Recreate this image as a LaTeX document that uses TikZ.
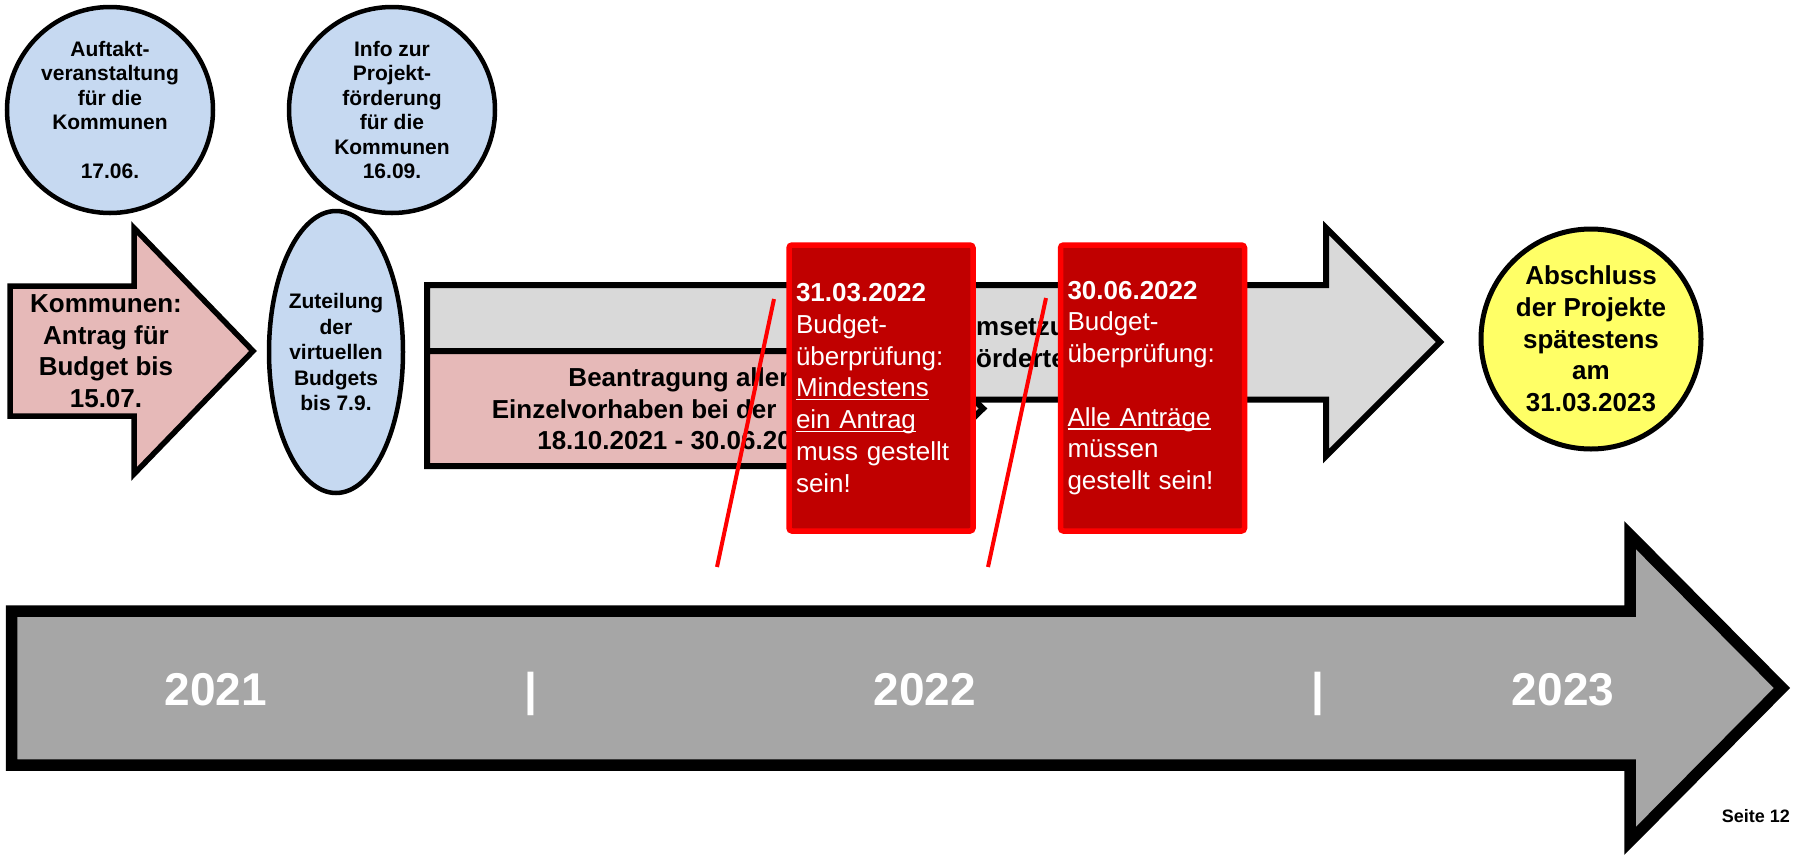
\documentclass[tikz,border=0pt]{standalone}
\usepackage{fontspec}
\setmainfont{Liberation Sans}
\usetikzlibrary{shapes.geometric}
\definecolor{lblue}{HTML}{C6D9F1}
\definecolor{lpink}{HTML}{E6B9B8}
\definecolor{lgrey}{HTML}{D9D9D9}
\definecolor{mgrey}{HTML}{A6A6A6}
\definecolor{dred}{HTML}{C00000}
\definecolor{bred}{HTML}{FF0000}
\definecolor{lyellow}{HTML}{FFFF66}
\newcommand\myul[1]{\leavevmode\setbox0\hbox{#1}\rlap{\rule[-3.5pt]{\wd0}{1.4pt}}\box0}
\begin{document}
\begin{tikzpicture}[x=1pt,y=-1pt,line join=miter,
  bubble/.style={circle,draw=black,line width=4.5pt,fill=lblue,inner sep=0pt,
    minimum size=206pt,align=center,font=\fontsize{21}{24.5}\selectfont\bfseries},
  oval/.style={ellipse,draw=black,line width=4.5pt,fill=lblue,inner sep=0pt,
    minimum width=134pt,minimum height=282pt,align=center,
    font=\fontsize{21}{25.5}\selectfont\bfseries},
  goal/.style={circle,draw=black,line width=5pt,fill=lyellow,inner sep=0pt,
    minimum size=220pt,align=center,font=\fontsize{26}{31.7}\selectfont\bfseries},
  shapeline/.style={draw=black,line width=5.5pt},
  bigtxt/.style={font=\fontsize{26}{31.5}\selectfont\bfseries,align=center,inner sep=0pt},
  redbox/.style={rectangle,rounded corners=3pt,draw=bred,fill=dred,line width=5.5pt,
    minimum height=286pt,text width=170pt,inner xsep=7pt,inner ysep=0pt,align=left,
    text=white,font=\fontsize{26}{31.7}\selectfont},
  redline/.style={draw=bred,line width=4pt},
  year/.style={anchor=base,text=white,inner sep=0pt,font=\fontsize{46}{50}\selectfont\bfseries}]
\useasboundingbox (0,0) rectangle (1797,855);

% top bubbles
\node[bubble] (kick) at (110,110) {Auftakt-\\veranstaltung\\für die\\Kommunen\\[24.5pt]17.06.};
\node[bubble] (info) at (392,110) {Info zur\\Projekt-\\förderung\\für die\\Kommunen\\16.09.};

% pink arrow (Kommunen)
\draw[shapeline,fill=lpink] (10,286) -- (134,286) -- (134,228) -- (253,351)
  -- (134,474) -- (134,416) -- (10,416) -- cycle;
\node[bigtxt] (antrag) at (106,351) {Kommunen:\\Antrag für\\Budget bis\\15.07.};

% ellipse
\node[oval] (zut) at (336,352) {Zuteilung\\der\\virtuellen\\Budgets\\bis 7.9.};

% grey arrow (Umsetzung)
\draw[shapeline,line width=6pt,fill=lgrey] (427,285) -- (1326,285) -- (1326,228)
  -- (1440,342) -- (1326,456) -- (1326,399.5) -- (427,399.5) -- cycle;
\begin{scope}
  \clip (975,288) rectangle (1057,396);
  \node[bigtxt,anchor=base west] (ums1) at (976,335) {msetzu};
  \node[bigtxt,anchor=base west] (ums2) at (976,367) {örderte};
\end{scope}

% pink pentagon (Beantragung)
\draw[shapeline,line width=6pt,fill=lpink] (427,351) -- (925,351) -- (983,408.5)
  -- (925,466) -- (427,466) -- cycle;
\node[bigtxt] (bean) at (679,409) {Beantragung aller\\Einzelvorhaben bei der~\phantom{NBank}\\18.10.2021 - 30.06.2022};

% red marker lines
\coordinate (l1a) at (717,567);
\coordinate (l1b) at (774,299);
\coordinate (l2a) at (988,567);
\coordinate (l2b) at (1046,298);
\draw[redline] (l1a) -- (l1b);
\draw[redline] (l2a) -- (l2b);

% red boxes
\node[redbox] (rb1) at (881,388) {\textbf{31.03.2022}\\Budget-\\überprüfung:\\\myul{Mindestens}\\\myul{ein Antrag}\\muss gestellt\\sein!};
\node[redbox] (rb2) at (1152.5,388) {\textbf{30.06.2022}\\Budget-\\überprüfung:\\[31.7pt]\myul{Alle Anträge}\\müssen\\gestellt sein!};

% yellow goal
\node[goal] (fin) at (1591,339) {Abschluss\\der Projekte\\spätestens\\am\\31.03.2023};

% big timeline arrow
\draw[draw=black,line width=11.5pt,fill=mgrey] (11.5,611) -- (1630,611) -- (1630,535)
  -- (1782,688) -- (1630,841) -- (1630,765) -- (11.5,765) -- cycle;
\node[year] (y21) at (216,705) {2021};
\node[year] (s1) at (531,705) {|};
\node[year] (y22) at (925,705) {2022};
\node[year] (s2) at (1318,705) {|};
\node[year] (y23) at (1563,705) {2023};

\node[anchor=base east,inner sep=0pt,font=\fontsize{18}{20}\selectfont\bfseries] (page) at (1790,822) {Seite 12};
\end{tikzpicture}
\end{document}
